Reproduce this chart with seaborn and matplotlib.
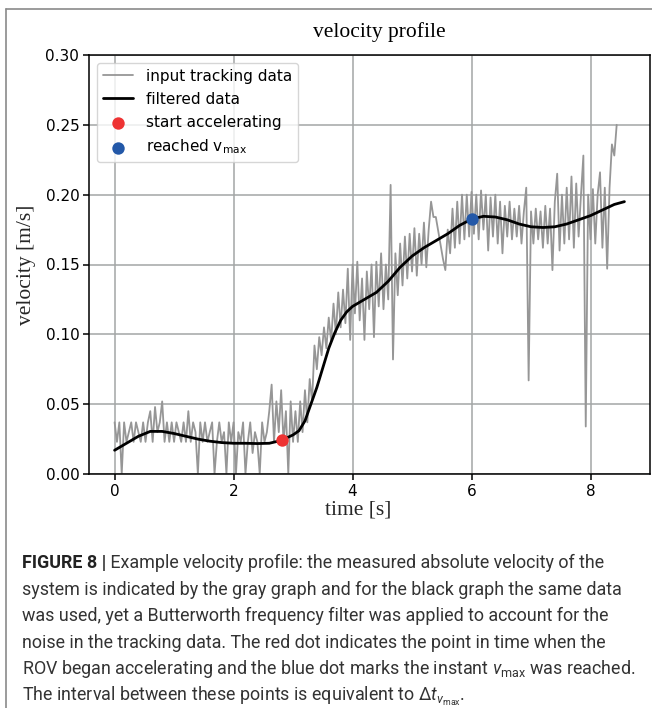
import matplotlib

matplotlib.use("Agg")
import matplotlib.pyplot as plt
import numpy as np
import pandas as pd
import seaborn as sns
from matplotlib.lines import Line2D

# raw tracking speed, one sample every 0.04 s
SAMPLE_STEP = 0.04
RAW_SPEED = [
    # 0.00 - 0.96 s
    0.037, 0.023, 0.037, 0.000, 0.037, 0.023, 0.030, 0.037, 0.023, 0.037,
    0.030, 0.023, 0.037, 0.023, 0.037, 0.045, 0.023, 0.048, 0.030, 0.037,
    0.052, 0.023, 0.037, 0.023, 0.037,
    # 1.00 - 1.96 s
    0.023, 0.037, 0.030, 0.023, 0.037, 0.023, 0.045, 0.023, 0.037, 0.030,
    0.000, 0.037, 0.023, 0.037, 0.023, 0.030, 0.037, 0.000, 0.023, 0.037,
    0.023, 0.030, 0.000, 0.037, 0.023,
    # 2.00 - 2.96 s
    0.037, 0.000, 0.030, 0.023, 0.037, 0.000, 0.023, 0.037, 0.015, 0.030,
    0.023, 0.000, 0.037, 0.023, 0.030, 0.045, 0.064, 0.023, 0.052, 0.030,
    0.060, 0.023, 0.045, 0.000, 0.052,
    # 3.00 - 3.96 s
    0.023, 0.045, 0.023, 0.052, 0.030, 0.060, 0.037, 0.068, 0.052, 0.092,
    0.075, 0.098, 0.085, 0.105, 0.090, 0.112, 0.095, 0.122, 0.100, 0.130,
    0.105, 0.132, 0.108, 0.147, 0.096,
    # 4.00 - 4.96 s
    0.150, 0.115, 0.152, 0.110, 0.140, 0.096, 0.145, 0.118, 0.150, 0.098,
    0.152, 0.120, 0.158, 0.118, 0.150, 0.125, 0.207, 0.082, 0.158, 0.128,
    0.165, 0.135, 0.170, 0.140, 0.172,
    # 5.00 - 5.96 s
    0.145, 0.176, 0.142, 0.172, 0.150, 0.180, 0.148, 0.175, 0.195, 0.184,
    0.184, 0.174, 0.164, 0.154, 0.146, 0.175, 0.158, 0.190, 0.162, 0.195,
    0.165, 0.200, 0.168, 0.200, 0.170,
    # 6.00 - 6.96 s
    0.202, 0.172, 0.200, 0.168, 0.203, 0.175, 0.200, 0.160, 0.198, 0.170,
    0.200, 0.165, 0.195, 0.158, 0.192, 0.170, 0.195, 0.168, 0.190, 0.170,
    0.192, 0.165, 0.188, 0.205, 0.067,
    # 7.00 - 7.96 s
    0.188, 0.165, 0.190, 0.168, 0.188, 0.162, 0.192, 0.165, 0.190, 0.146,
    0.195, 0.215, 0.160, 0.200, 0.165, 0.205, 0.168, 0.213, 0.162, 0.208,
    0.170, 0.200, 0.228, 0.034, 0.200,
    # 8.00 - 8.44 s
    0.168, 0.204, 0.165, 0.200, 0.216, 0.162, 0.205, 0.147, 0.205, 0.236,
    0.228, 0.250,
]

# Butterworth filtered speed
FILTER_TIME = [
    0.0, 0.2, 0.4, 0.6, 0.8, 1.0, 1.2, 1.4, 1.6, 1.8, 2.0, 2.2, 2.4, 2.6,
    2.8, 2.9, 3.0, 3.1, 3.2, 3.3, 3.4, 3.5, 3.6, 3.7, 3.8, 3.9, 4.0, 4.2,
    4.4, 4.6, 4.8, 5.0, 5.2, 5.4, 5.6, 5.8, 6.0, 6.2, 6.4, 6.6, 6.8, 7.0,
    7.2, 7.4, 7.6, 7.8, 8.0, 8.2, 8.4, 8.57,
]
FILTER_SPEED = [
    0.017, 0.022, 0.027, 0.0305, 0.0305, 0.029, 0.027, 0.025, 0.0235, 0.0225,
    0.022, 0.022, 0.0218, 0.022, 0.024, 0.026, 0.028, 0.031, 0.038, 0.050,
    0.062, 0.076, 0.090, 0.101, 0.110, 0.116, 0.120, 0.125, 0.130, 0.138,
    0.148, 0.156, 0.162, 0.167, 0.172, 0.178, 0.1825, 0.1845, 0.184, 0.182,
    0.179, 0.177, 0.1765, 0.177, 0.179, 0.182, 0.185, 0.189, 0.193, 0.195,
]

START_TIME = [2.82]
START_SPEED = [0.0245]
VMAX_TIME = [6.0]
VMAX_SPEED = [0.1825]

CAPTION_BOLD = "FIGURE 8 |"
CAPTION_LINES = [
    " Example velocity profile: the measured absolute velocity of the",
    "system is indicated by the gray graph and for the black graph the same data",
    "was used, yet a Butterworth frequency filter was applied to account for the",
    "noise in the tracking data. The red dot indicates the point in time when the",
    r"ROV began accelerating and the blue dot marks the instant $v_{\mathrm{max}}$ was reached.",
    r"The interval between these points is equivalent to $\Delta t_{v_{\mathrm{max}}}$.",
]

W, H = 652, 708


def configure_style() -> None:
    sns.set_theme(style="ticks")
    plt.rcParams["font.family"] = ["DejaVu Sans"]
    plt.rcParams["mathtext.fontset"] = "custom"
    plt.rcParams["mathtext.rm"] = "Roboto"
    plt.rcParams["mathtext.it"] = "Roboto:italic"
    plt.rcParams["axes.edgecolor"] = "black"
    plt.rcParams["axes.linewidth"] = 1.1
    plt.rcParams["xtick.major.width"] = 1.1
    plt.rcParams["ytick.major.width"] = 1.1
    plt.rcParams["xtick.major.size"] = 4
    plt.rcParams["ytick.major.size"] = 4
    plt.rcParams["xtick.color"] = "black"
    plt.rcParams["ytick.color"] = "black"
    plt.rcParams["text.color"] = "black"


def px_x(x):
    return x / W


def px_y(y):
    return 1 - y / H


def main() -> None:
    configure_style()

    raw = pd.DataFrame({"time": np.arange(len(RAW_SPEED)) * SAMPLE_STEP, "speed": RAW_SPEED})
    filt = pd.DataFrame({"time": FILTER_TIME, "speed": FILTER_SPEED})

    fig = plt.figure(figsize=(W / 100, H / 100), dpi=100)
    ax = fig.add_axes([px_x(89), px_y(474), (650 - 89) / W, (474 - 55) / H])

    sns.lineplot(data=raw, x="time", y="speed", color="#969696", linewidth=1.3,
                 label="input tracking data", ax=ax)
    sns.lineplot(data=filt, x="time", y="speed", color="black", linewidth=2.0,
                 label="filtered data", ax=ax)
    sns.scatterplot(x=START_TIME, y=START_SPEED, color="#ee3333", s=80, linewidth=0,
                    label="start accelerating", ax=ax, zorder=5)
    sns.scatterplot(x=VMAX_TIME, y=VMAX_SPEED, color="#2358a8", s=80, linewidth=0,
                    label=r"reached v$_{\mathregular{max}}$", ax=ax, zorder=5)

    ax.set_xlim(-0.43, 9.0)
    ax.set_ylim(0, 0.30)
    ax.set_xticks([0, 2, 4, 6, 8])
    ax.set_yticks(np.arange(0, 0.301, 0.05))
    ax.set_yticklabels([f"{v:.2f}" for v in np.arange(0, 0.301, 0.05)])
    ax.tick_params(labelsize=11, pad=3)
    ax.grid(True, color="#a3a6a6", linewidth=1.1)
    for side in ["top", "right", "left", "bottom"]:
        ax.spines[side].set_visible(True)

    serif = ["Liberation Serif", "DejaVu Serif"]
    ax.set_title("velocity profile", family=serif, fontsize=15.5, x=0.517, pad=13)
    ax.set_xlabel("time [s]", family=serif, fontsize=15.5)
    ax.set_ylabel("velocity [m/s]", family=serif, fontsize=15.5)
    ax.xaxis.set_label_coords(0.48, -0.064)
    ax.yaxis.set_label_coords(-0.094, 0.5)

    ax.legend(loc="upper left", fontsize=11, handlelength=2.0, borderaxespad=0.5,
              labelspacing=0.52, framealpha=0.8)

    # outer frame of the figure panel
    frame = dict(transform=fig.transFigure, color="#8a8a8a", linewidth=1.2)
    fig.add_artist(Line2D([px_x(6), px_x(6)], [px_y(9), 0], **frame))
    fig.add_artist(Line2D([px_x(6), 1], [px_y(9), px_y(9)], **frame))

    cap_font = ["Roboto", "DejaVu Sans"]
    cap_size = 12.85
    x0 = px_x(22)
    y_lines = [563, 590, 616, 643, 669, 696]
    bold = fig.text(x0, px_y(y_lines[0]), CAPTION_BOLD, family=cap_font, fontsize=cap_size,
                    weight="bold", va="center", color="#222222")
    renderer = fig.canvas.get_renderer()
    bb = bold.get_window_extent(renderer)
    fig.text(bb.x1 / fig.bbox.width, px_y(y_lines[0]), CAPTION_LINES[0], family=cap_font,
             fontsize=cap_size, va="center", color="#333333")
    for line, y in zip(CAPTION_LINES[1:], y_lines[1:]):
        fig.text(x0, px_y(y), line, family=cap_font, fontsize=cap_size, va="center",
                 color="#333333")

    fig.savefig("out.png", dpi=100)
    plt.close(fig)


if __name__ == "__main__":
    main()
